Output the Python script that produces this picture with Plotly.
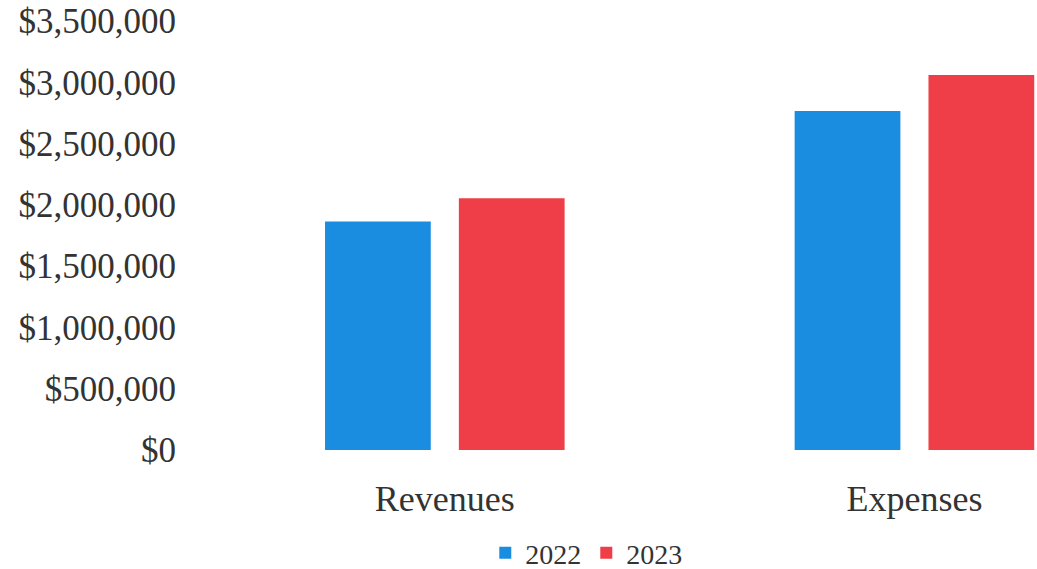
import plotly.graph_objects as go

categories = ["Revenues", "Expenses"]
values_2022 = [1865000, 2766000]
values_2023 = [2054000, 3060000]
tick_vals = [0, 500000, 1000000, 1500000, 2000000, 2500000, 3000000, 3500000]
tick_text = ["$0", "$500,000", "$1,000,000", "$1,500,000", "$2,000,000",
             "$2,500,000", "$3,000,000", "$3,500,000"]

FONT = "Liberation Serif, Times New Roman, serif"

fig = go.Figure()
fig.add_trace(go.Bar(name="2022", x=categories, y=values_2022,
                     marker=dict(color="#1B8DE0", line=dict(width=0))))
fig.add_trace(go.Bar(name="2023", x=categories, y=values_2023,
                     marker=dict(color="#EF3E47", line=dict(width=0))))

fig.update_layout(
    width=1037, height=569,
    margin=dict(l=210, r=0, t=21, b=119, autoexpand=False),
    paper_bgcolor="white", plot_bgcolor="white",
    barmode="group", bargap=0.43, bargroupgap=0.21,
    font=dict(family=FONT, color="#333333"),
    showlegend=True,
    legend=dict(orientation="h", x=0.455, xanchor="center",
                yref="container", y=0.028, yanchor="middle",
                font=dict(size=28, family=FONT, color="#333333"),
                itemwidth=30, traceorder="normal"),
)
fig.update_xaxes(range=[-0.5, 1.261], showgrid=False, zeroline=False, showline=False,
                 automargin=False,
                 ticks="", tickfont=dict(size=36, family=FONT, color="#333333"),
                 ticklabelstandoff=24)
fig.update_yaxes(range=[0, 3500000], tickvals=tick_vals, ticktext=tick_text,
                 showgrid=False, zeroline=False, showline=False, ticks="",
                 automargin=False,
                 tickfont=dict(size=35, family=FONT, color="#333333"),
                 ticklabelstandoff=33)

fig.write_html("out.html")
